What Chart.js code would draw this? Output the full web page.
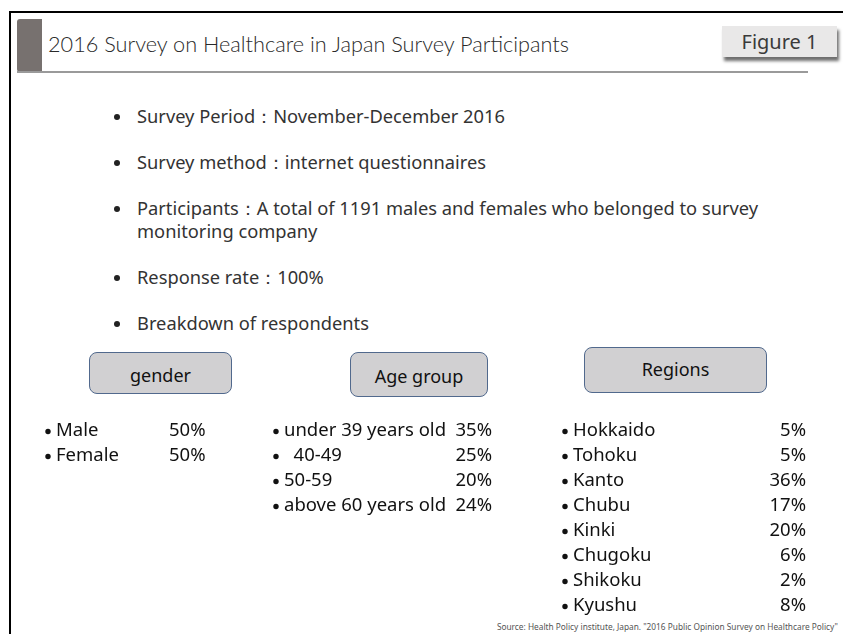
<!DOCTYPE html>
<html>
<head>
<meta charset="utf-8">
<script src="https://cdn.jsdelivr.net/npm/chart.js@4"></script>
<style>
  html, body { margin: 0; padding: 0; background: #fff; }
  body { width: 843px; height: 634px; position: relative; overflow: hidden; font-family: "Noto Sans", sans-serif; color: #222; }
  .abs { position: absolute; }
  .frame-top { left: 9px; top: 11px; width: 834px; height: 2px; background: #000; }
  .frame-left { left: 9px; top: 11px; width: 2px; height: 623px; background: #000; }
  .tab { left: 17px; top: 19px; width: 25px; height: 53px; background: #77716f; border-radius: 3px 0 0 3px; }
  .rule { left: 17px; top: 71px; width: 791px; height: 1.5px; background: #9a9a9a; }
  .title { left: 48px; top: 34px; font-family: "Lato Light", Lato, sans-serif; font-weight: 300; font-size: 21.7px; line-height: 21.7px; color: #2a2a2a; white-space: nowrap; }
  .fig { left: 722px; top: 26px; width: 115px; height: 31px; background: #e9e8e8; box-shadow: 2px 4px 3px #6f6f6f;
         font-size: 20px; color: #3a3a3a; line-height: 31px; text-align: center; }
  .bul { left: 137px; font-size: 18.3px; color: #333; white-space: nowrap; line-height: 22px; }
  .bul::before { content: ""; position: absolute; left: -23px; top: 8.5px; width: 6px; height: 6px; border-radius: 50%; background: #222; }
  .line2 { left: 137px; font-size: 18.3px; color: #333; white-space: nowrap; line-height: 22px; }
  .cat { background: #d1d0d2; border: 1.5px solid #51698d; border-radius: 8px; box-sizing: border-box;
         font-size: 18px; color: #111; text-align: center; }
  .src { right: 5px; top: 621px; font-size: 8.3px; color: #555; white-space: nowrap; }
  .list { position: absolute; }
</style>
</head>
<body>
<div class="abs frame-top"></div>
<div class="abs frame-left"></div>
<div class="abs tab"></div>
<div class="abs rule"></div>
<div class="abs title">2016 Survey on Healthcare in Japan Survey Participants</div>
<div class="abs fig">Figure 1</div>

<div class="abs bul" style="top:105px">Survey Period：November-December 2016</div>
<div class="abs bul" style="top:151px">Survey method：internet questionnaires</div>
<div class="abs bul" style="top:197px">Participants：A total of 1191 males and females who belonged to survey</div>
<div class="abs line2" style="top:220px">monitoring company</div>
<div class="abs bul" style="top:266px">Response rate：100%</div>
<div class="abs bul" style="top:312px">Breakdown of respondents</div>

<div class="abs cat" style="left:89px;top:352px;width:143px;height:42px;line-height:44px">gender</div>
<div class="abs cat" style="left:350px;top:352px;width:138px;height:45px;line-height:46px">Age group</div>
<div class="abs cat" style="left:584px;top:347px;width:183px;height:46px;line-height:42px">Regions</div>

<div class="list" style="left:45px;top:418px;width:190px;height:50px"><canvas id="genderChart"></canvas></div>
<div class="list" style="left:273px;top:418px;width:219px;height:100px"><canvas id="ageChart"></canvas></div>
<div class="list" style="left:562px;top:418px;width:244px;height:200px"><canvas id="regionChart"></canvas></div>

<div class="abs src">Source: Health Policy institute, Japan. "2016 Public Opinion Survey on Healthcare Policy"</div>

<script>
// breakdown of respondents, in percent
const genderLabels = ["Male", "Female"];
const genderValues = [50, 50];

const ageLabels = ["under 39 years old", "  40-49", "50-59", "above 60 years old"];
const ageValues = [35, 25, 20, 24];

const regionLabels = ["Hokkaido", "Tohoku", "Kanto", "Chubu", "Kinki", "Chugoku", "Shikoku", "Kyushu"];
const regionValues = [5, 5, 36, 17, 20, 6, 2, 8];

// draws each row as "• label ... NN%" at the row centre given by the y scale
const rowText = {
  id: "rowText",
  afterDatasetsDraw(chart, args, opts) {
    const { ctx, chartArea } = chart;
    const y = chart.scales.y;
    const vals = chart.data.datasets[0].data;
    ctx.save();
    ctx.font = "18.5px 'Noto Sans', sans-serif";
    ctx.fillStyle = "#111";
    ctx.textBaseline = "middle";
    chart.data.labels.forEach((lab, i) => {
      const py = y.getPixelForValue(i);
      ctx.beginPath();
      ctx.arc(chartArea.left + 3, py + 1, 2.7, 0, Math.PI * 2);
      ctx.fill();
      ctx.textAlign = "left";
      ctx.fillText(lab, chartArea.left + 11, py);
      const pct = vals[i] + "%";
      if (opts.align === "right") {
        ctx.textAlign = "right";
        ctx.fillText(pct, chartArea.right, py);
      } else {
        ctx.fillText(pct, chartArea.left + opts.x, py);
      }
    });
    ctx.restore();
  }
};

function makeList(id, labels, values, textOpts) {
  return new Chart(document.getElementById(id), {
    type: "bar",
    data: {
      labels: labels,
      datasets: [{ data: values, backgroundColor: "rgba(0,0,0,0)", borderWidth: 0 }],
    },
    options: {
      indexAxis: "y",
      responsive: true,
      maintainAspectRatio: false,
      animation: false,
      events: [],
      layout: { padding: 0 },
      scales: {
        x: { display: false, min: 0, max: 100 },
        y: { display: false },
      },
      plugins: { legend: { display: false }, tooltip: { enabled: false }, rowText: textOpts },
    },
    plugins: [rowText],
  });
}

makeList("genderChart", genderLabels, genderValues, { align: "left", x: 124 });
makeList("ageChart", ageLabels, ageValues, { align: "right" });
makeList("regionChart", regionLabels, regionValues, { align: "right" });
</script>
</body>
</html>
